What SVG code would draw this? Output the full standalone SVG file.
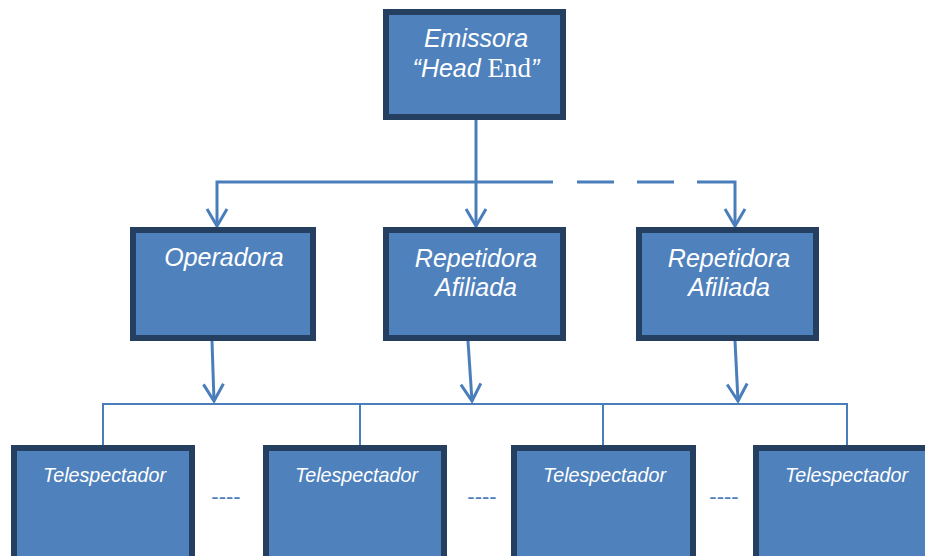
<svg xmlns="http://www.w3.org/2000/svg" width="925" height="556" viewBox="0 0 925 556">
<style>
.box{fill:#4f81bd;stroke:#243f60;stroke-width:6}
.lbl{font-family:"Liberation Sans",Arial,sans-serif;font-style:italic;fill:#ffffff;text-anchor:middle}
.big{font-size:25px}
.small{font-size:21px}
.con{fill:none;stroke:#4a7ebb;stroke-width:3}
.tree{fill:none;stroke:#4a7ebb;stroke-width:2}
.dots{font-family:"Liberation Sans",Arial,sans-serif;font-size:22px;fill:#4a7ebb;text-anchor:middle}
</style>
<defs>
<marker id="arr" markerUnits="userSpaceOnUse" markerWidth="40" markerHeight="40" refX="0" refY="0" viewBox="-20 -20 40 40" orient="auto" overflow="visible">
<path d="M-17,-10 L0,0 L-17,10" fill="none" stroke="#4a7ebb" stroke-width="3"/>
</marker>
</defs>
<rect width="925" height="556" fill="#ffffff"/>
<g id="connectors">
<path class="con" d="M476,120 V226" marker-end="url(#arr)"/>
<path class="con" d="M553,182 H217 V226" marker-end="url(#arr)"/>
<path class="con" d="M577,182 H614 M637,182 H674"/>
<path class="con" d="M697,182 H735 V226" marker-end="url(#arr)"/>
<path class="con" d="M212,341 L214,401" marker-end="url(#arr)"/>
<path class="con" d="M468,341 L472,401" marker-end="url(#arr)"/>
<path class="con" d="M735,341 L738,401" marker-end="url(#arr)"/>
<path class="tree" d="M103,445 V404 H847 V445 M360,404 V445 M603,404 V445"/>
</g>
<g id="emissora">
<rect class="box" x="386" y="12" width="177" height="105"/>
<text class="lbl big" x="476" y="47">Emissora</text>
<text class="lbl big" x="476" y="77">“Head <tspan font-family="'Liberation Serif',serif" font-style="normal" font-size="27">End</tspan>”</text>
</g>
<g id="operadora">
<rect class="box" x="133" y="230" width="180" height="108"/>
<text class="lbl big" x="224" y="266">Operadora</text>
</g>
<g id="repetidora1">
<rect class="box" x="386" y="230" width="177" height="108"/>
<text class="lbl big" x="476" y="267">Repetidora</text>
<text class="lbl big" x="476" y="296">Afiliada</text>
</g>
<g id="repetidora2">
<rect class="box" x="639" y="230" width="177" height="108"/>
<text class="lbl big" x="729" y="267">Repetidora</text>
<text class="lbl big" x="729" y="296">Afiliada</text>
</g>
<g id="telespectador1">
<rect class="box" x="14" y="448" width="178" height="160"/>
<text class="lbl small" x="104.5" y="482" textLength="123" lengthAdjust="spacingAndGlyphs">Telespectador</text>
</g>
<g id="telespectador2">
<rect class="box" x="266" y="448" width="178" height="160"/>
<text class="lbl small" x="356.5" y="482" textLength="123" lengthAdjust="spacingAndGlyphs">Telespectador</text>
</g>
<g id="telespectador3">
<rect class="box" x="514" y="448" width="179" height="160"/>
<text class="lbl small" x="604.5" y="482" textLength="123" lengthAdjust="spacingAndGlyphs">Telespectador</text>
</g>
<g id="telespectador4">
<rect class="box" x="756" y="448" width="178" height="160"/>
<text class="lbl small" x="846.5" y="482" textLength="123" lengthAdjust="spacingAndGlyphs">Telespectador</text>
</g>
<g id="ellipses">
<text class="dots" x="226" y="504">----</text>
<text class="dots" x="482" y="504">----</text>
<text class="dots" x="724" y="504">----</text>
</g>
</svg>
